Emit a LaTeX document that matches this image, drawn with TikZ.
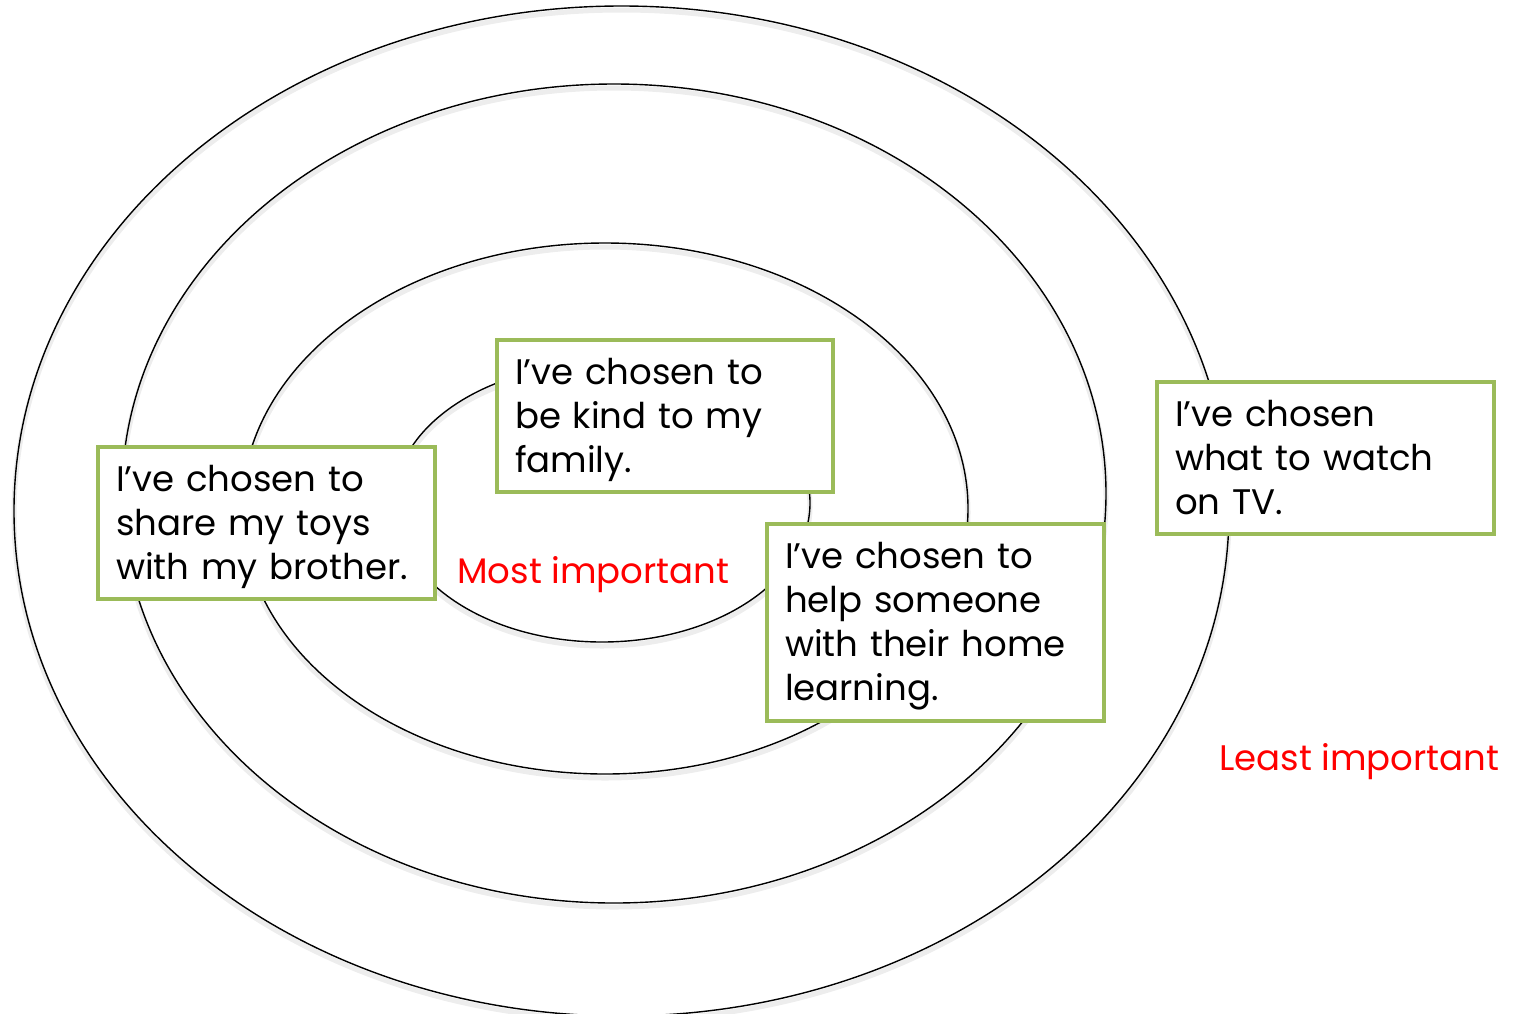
\documentclass[tikz,border=0pt]{standalone}
\usepackage{fontspec}
\setmainfont{Poppins}
\definecolor{boxgreen}{HTML}{9BBB59}
\begin{document}
\begin{tikzpicture}[x=1pt,y=-1pt,
  ring/.style={draw=black, line width=1.4pt},
  ringshadow/.style={draw=black, line width=5pt, opacity=0.07},
  choice/.style={draw=boxgreen, line width=4pt, fill=white, align=left,
    inner xsep=18pt, inner ysep=0pt, text height=44pt,
    font=\fontsize{35.5}{44}\selectfont},
  rank/.style={text=red, inner sep=0pt, anchor=base west, font=\fontsize{35.5}{44}\selectfont}]
\useasboundingbox (0,0) rectangle (1514,1013);
\clip (0,0) rectangle (1514,1013);
% shadows
\foreach \cx/\cy/\rx/\ry in {621.5/511/607.5/505, 614/493.5/492/409.5, 605/508.5/363/265.5, 602/503/208/139}{
  \draw[ringshadow] (\cx,\cy+4) ellipse [x radius=\rx pt, y radius=\ry pt];
}
% rings
\draw[ring] (621.5,511) ellipse [x radius=607.5pt, y radius=505pt];
\draw[ring] (614,493.5) ellipse [x radius=492pt, y radius=409.5pt];
\draw[ring] (605,508.5) ellipse [x radius=363pt, y radius=265.5pt];
\draw[ring] (602,503) ellipse [x radius=208pt, y radius=139pt];
% boxes
\node[choice, text width=300pt, text depth=108pt] (kind) at (665,416)
  {I’ve chosen to\\be kind to my\\family.};
\node[choice, text width=301pt, text depth=108pt] (toys) at (266.5,523)
  {I’ve chosen to\\share my toys\\with my brother.};
\node[choice, text width=301pt, text depth=153pt] (help) at (935.5,622.5)
  {I’ve chosen to\\help someone\\with their home\\learning.};
\node[choice, text width=301pt, text depth=108pt] (tv) at (1325.5,458)
  {I’ve chosen\\what to watch\\on TV.};
% labels
\node[rank] (most) at (457,583) {Most important};
\node[rank] (least) at (1219,770) {Least important};
\end{tikzpicture}
\end{document}
